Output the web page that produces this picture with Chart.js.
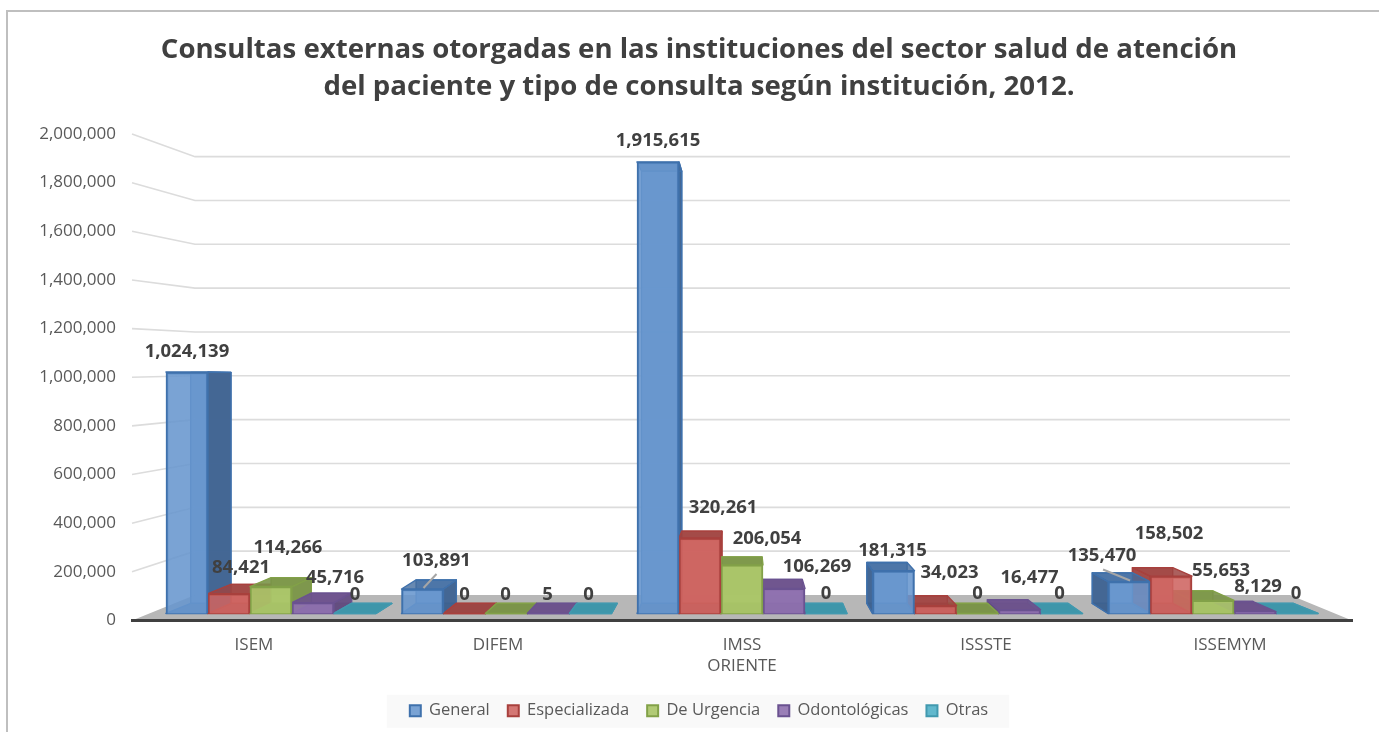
<!DOCTYPE html>
<html lang="es">
<head>
<meta charset="utf-8">
<title>Consultas externas</title>
<script src="https://cdn.jsdelivr.net/npm/chart.js@4"></script>
<style>
html,body{margin:0;padding:0;width:1379px;height:732px;overflow:hidden;background:#fff}
#frame{position:absolute;left:6px;top:10px;width:1373px;height:722px;border:solid #bfbfbf;border-width:2px 0 0 2px;box-sizing:border-box;pointer-events:none}
#wrap{position:absolute;left:0;top:0;width:1398px;height:760px}
canvas{display:block}
</style>
</head>
<body>
<div id="wrap"><canvas id="c" width="1398" height="760"></canvas></div>
<div id="frame"></div>
<script>
const categories = ['ISEM', 'DIFEM', ['IMSS', 'ORIENTE'], 'ISSSTE', 'ISSEMYM'];
const general = [1024139, 103891, 1915615, 181315, 135470];
const especializada = [84421, 0, 320261, 34023, 158502];
const deUrgencia = [114266, 0, 206054, 0, 55653];
const odontologicas = [45716, 5, 106269, 16477, 8129];
const otras = [0, 0, 0, 0, 0];
const titleLines = ['Consultas externas otorgadas en las instituciones del sector salud de atención',
  'del paciente y tipo de consulta según institución, 2012.'];

const FONT = '"Open Sans", sans-serif';
const toXY = a => a.map((v, i) => ({x: i, y: v}));
const K = 0.043, VX = 742, VY = 379;
const backPt = (x, y) => [x + (VX - x) * K, y + (VY - y) * K];

const skins = [
  {fill:'rgba(104,150,206,0.88)', line:'#3f71ac', side:'rgba(62,96,140,0.88)', top:'rgba(66,108,158,0.80)'},
  {fill:'rgba(206,100,97,0.88)', line:'#a8403d', side:'rgba(150,66,64,0.80)', top:'rgba(156,68,66,0.85)'},
  {fill:'rgba(170,198,105,0.92)', line:'#82a148', side:'rgba(118,142,70,0.85)', top:'rgba(122,148,72,0.90)'},
  {fill:'rgba(143,113,175,0.90)', line:'#6a5290', side:'rgba(98,76,126,0.85)', top:'rgba(108,82,140,0.92)'},
  {fill:'rgba(80,176,200,0.90)', line:'#4199af', side:'rgba(54,134,154,0.9)', top:'rgba(62,150,170,0.95)'}
];
const names = ['General', 'Especializada', 'De Urgencia', 'Odontológicas', 'Otras'];
const series = [general, especializada, deUrgencia, odontologicas, otras];

// label nudges [dx, dy] from each bar's top centre, rows = categories, columns = series
const nudges = [
  [[0,-20],[12,-26],[17,-39],[22,-25],[0,-19]],
  [[14,-28],[0,-19],[-1,-19],[-1,-19],[-2,-19]],
  [[0,-21],[23,-30],[25,-26],[33,-22],[0,-20]],
  [[-1,-20],[14,-33],[0,-20],[10,-32],[-2,-20]],
  [[-27,-26],[-2,-42],[8,-30],[3,-25],[-1,-20]]
];
// leader lines: [series, category, x1, y1, x2, y2] relative to the bar's top centre
const leaders = [[0,1,14,-15,1,-1],[0,4,-26,-12,1,-1]];

const stage3d = {
  id: 'stage3d',
  beforeDraw(chart) {
    const {ctx, scales:{y}, chartArea:a, legend} = chart;
    ctx.save();
    // legend panel
    const hb = legend.legendHitBoxes;
    const lx0 = hb[0].left - 23, last = hb[hb.length-1], lx1 = last.left + last.width + 21;
    const lc = hb[0].top + hb[0].height / 2;
    ctx.fillStyle = '#f9f9f9';
    ctx.fillRect(lx0, lc - 16, lx1 - lx0, 33);
    // walls
    const bx0 = a.left + 63, bx1 = a.right - 62, by = v => 595 - (a.bottom - y.getPixelForValue(v)) * (437 / 485);
    ctx.strokeStyle = '#dcdcdc'; ctx.lineWidth = 1.6;
    y.ticks.forEach(t => {
      if (t.value === 0) return;
      ctx.beginPath();
      ctx.moveTo(a.left, y.getPixelForValue(t.value));
      ctx.lineTo(bx0, by(t.value));
      ctx.lineTo(bx1, by(t.value));
      ctx.stroke();
    });
    // floor
    ctx.fillStyle = '#b7b7b7';
    ctx.beginPath();
    ctx.moveTo(a.left, a.bottom); ctx.lineTo(bx0, by(0)); ctx.lineTo(bx1, by(0)); ctx.lineTo(a.right, a.bottom);
    ctx.closePath(); ctx.fill();
    ctx.restore();
  },
  beforeDatasetsDraw(chart) {
    const {ctx} = chart;
    const boxes = [];
    chart.data.datasets.forEach((d, s) => {
      chart.getDatasetMeta(s).data.forEach((b) => {
        boxes.push({s, l: b.x - b.width / 2, r: b.x + b.width / 2, t: b.y, g: b.base, cx: b.x});
      });
    });
    boxes.sort((p, q) => Math.abs(q.cx - VX) - Math.abs(p.cx - VX));
    const poly = (pts, fill, line) => {
      ctx.beginPath();
      pts.forEach((p, i) => i ? ctx.lineTo(p[0], p[1]) : ctx.moveTo(p[0], p[1]));
      ctx.closePath();
      if (fill) { ctx.fillStyle = fill; ctx.fill(); }
      ctx.lineWidth = 1.4; ctx.strokeStyle = line; ctx.stroke();
    };
    ctx.save();
    ctx.lineJoin = 'round';
    boxes.forEach(b => {
      const sk = skins[b.s];
      const fTL = [b.l, b.t], fTR = [b.r, b.t], fBL = [b.l, b.g], fBR = [b.r, b.g];
      const bTL = backPt(b.l, b.t), bTR = backPt(b.r, b.t), bBL = backPt(b.l, b.g), bBR = backPt(b.r, b.g);
      poly([bBL, bBR, bTR, bTL], sk.fill, sk.line);
      poly([fBL, fBR, bBR, bBL], sk.top, sk.line);
      if (b.cx < VX) poly([fBR, fTR, bTR, bBR], sk.side, sk.line);
      else poly([fBL, fTL, bTL, bBL], sk.side, sk.line);
      poly([fTL, fTR, bTR, bTL], sk.top, sk.line);
    });
    ctx.restore();
  },
  afterDatasetsDraw(chart) {
    const {ctx} = chart;
    ctx.save();
    ctx.strokeStyle = '#a6a6a6'; ctx.lineWidth = 2;
    leaders.forEach(([s, c, x1, y1, x2, y2]) => {
      const b = chart.getDatasetMeta(s).data[c];
      ctx.beginPath(); ctx.moveTo(b.x + x1, b.y + y1); ctx.lineTo(b.x + x2, b.y + y2); ctx.stroke();
    });
    ctx.font = 'bold 18.5px ' + FONT;
    ctx.fillStyle = '#404040';
    ctx.textAlign = 'center'; ctx.textBaseline = 'middle';
    chart.data.datasets.forEach((d, s) => {
      chart.getDatasetMeta(s).data.forEach((b, c) => {
        const [dx, dy] = nudges[c][s];
        ctx.fillText(d.data[c].y.toLocaleString('en-US'), b.x + dx, b.y + dy);
      });
    });
    ctx.restore();
  }
};

new Chart(document.getElementById('c'), {
  type: 'bar',
  plugins: [stage3d],
  data: {
    labels: categories,
    datasets: series.map((vals, s) => ({
      label: names[s], data: toXY(vals), xAxisID: 'x1', yAxisID: 'y1',
      backgroundColor: skins[s].fill, borderColor: skins[s].line, borderWidth: 2,
      barThickness: 42
    }))
  },
  options: {
    responsive: false, animation: false, devicePixelRatio: 1,
    layout: {padding: {left: 0, right: 0, top: 0, bottom: 31}},
    plugins: {
      tooltip: {enabled: false},
      title: {display: true, text: titleLines, color: '#404040',
        font: {family: FONT, size: 27.6, weight: 'bold', lineHeight: 37 / 27.6},
        padding: {top: 32, bottom: 28}},
      legend: {display: true, position: 'bottom', onClick: null,
        labels: {boxWidth: 11, boxHeight: 11, padding: 18, color: '#595959',
          font: {family: FONT, size: 16.5}}}
    },
    scales: {
      x: {type: 'category', position: 'bottom', offset: true,
        grid: {display: false},
        border: {display: true, color: '#404040', width: 3},
        ticks: {color: '#595959', padding: 6, maxRotation: 0, autoSkip: false,
          font: {family: FONT, size: 17, lineHeight: 1.24}},
        afterFit(s) { s.height = 64; }},
      y: {type: 'linear', position: 'left', min: 0, max: 2000000,
        grid: {display: false, drawTicks: false},
        border: {display: false},
        ticks: {stepSize: 200000, padding: 16, color: '#595959',
          font: {family: FONT, size: 17},
          callback: v => v.toLocaleString('en-US')},
        afterFit(s) { s.width = 132; }},
      x1: {type: 'linear', axis: 'x', display: false, offset: false, min: -0.59, max: 4.59,
        grid: {display: false, offset: false}},
      y1: {type: 'linear', axis: 'y', position: 'right', display: true, min: -29787, max: 2034043,
        grid: {display: false, drawTicks: false}, border: {display: false}, ticks: {display: false},
        afterFit(s) { s.width = 46; }}
    }
  }
});
</script>
</body>
</html>
